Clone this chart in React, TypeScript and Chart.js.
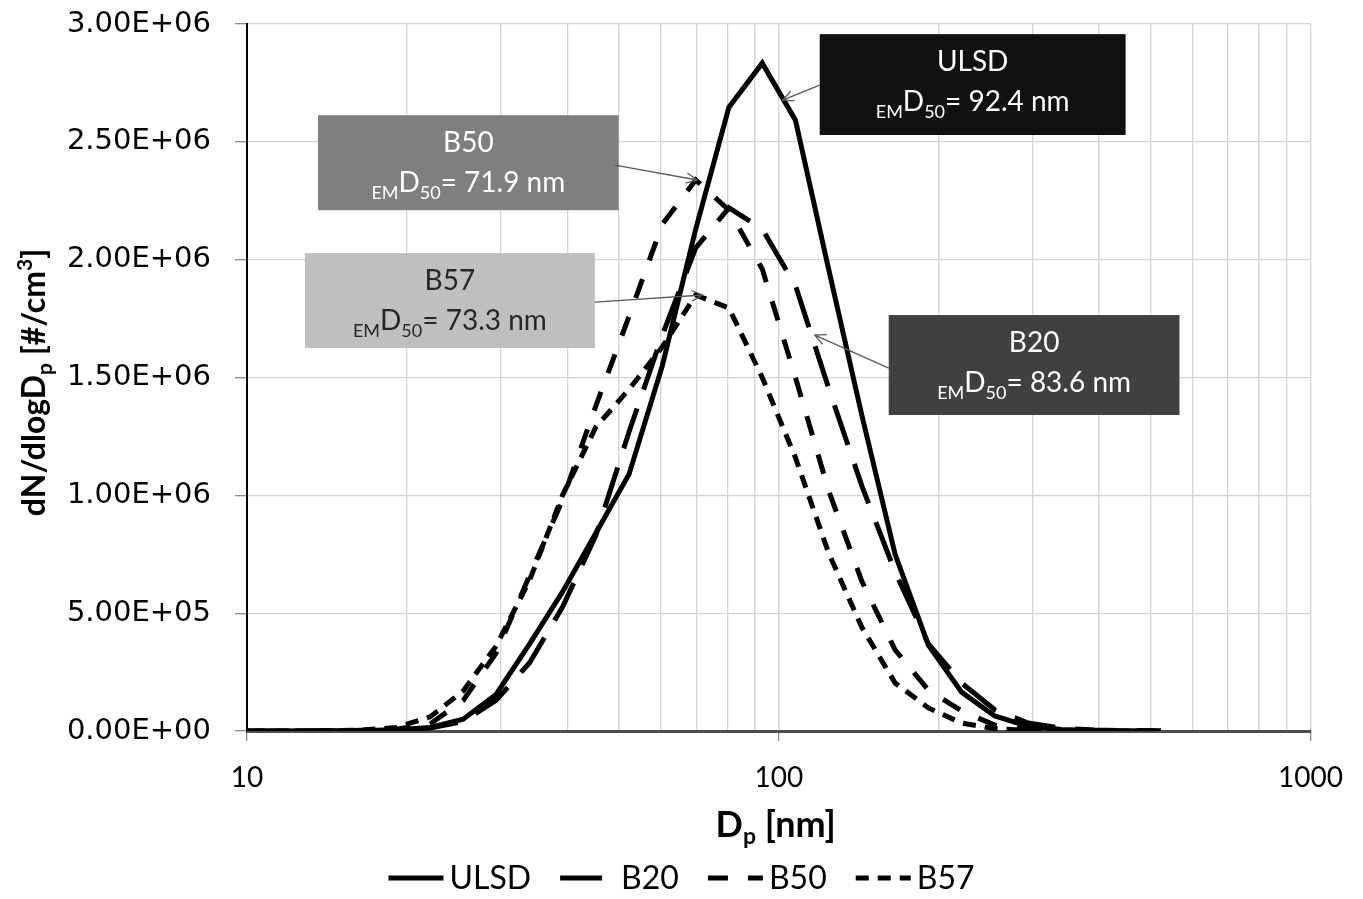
import React, { useEffect, useRef } from "react";
import { Chart, registerables } from "chart.js";

Chart.register(...registerables);

// ---- Data (EEPS channel mid-point diameters, nm) ----
const diameters = [9.31, 10.8, 12.4, 14.3, 16.5, 19.1, 22.1, 25.5, 29.4, 34.0, 39.2, 45.3, 52.3, 60.4, 69.8, 80.6, 93.1, 107.5, 124.1, 143.3, 165.5, 191.1, 220.7, 254.8, 294.3, 339.8, 392.4, 453.2, 523.3];

const ulsd = [0, 0, 0, 1e3, 2e3, 5e3, 1.5e4, 5e4, 1.55e5, 3.7e5, 5.9e5, 8.4e5, 1.09e6, 1.55e6, 2.13e6, 2.647e6, 2.834e6, 2.592e6, 1.96e6, 1.34e6, 7.5e5, 3.65e5, 1.65e5, 6.4e4, 2.0e4, 6e3, 2e3, 1e3, 3e2];
const b20 = [0, 0, 0, 0, 1e3, 3e3, 1.3e4, 4e4, 1.3e5, 2.9e5, 5.26e5, 8.3e5, 1.27e6, 1.68e6, 2.05e6, 2.22e6, 2.13e6, 1.89e6, 1.455e6, 1.04e6, 6.75e5, 3.7e5, 2.04e5, 9e4, 3.4e4, 1.2e4, 4e3, 1e3, 5e2];
const b50 = [0, 0, 0, 1e3, 3e3, 8e3, 3e4, 1.3e5, 3.3e5, 6.6e5, 9.8e5, 1.38e6, 1.76e6, 2.15e6, 2.338e6, 2.21e6, 1.96e6, 1.5e6, 1.02e6, 6.35e5, 3.44e5, 1.74e5, 8.5e4, 2.5e4, 5e3, 1e3, 0, 0, 0];
const b57 = [0, 0, 0, 1e3, 4e3, 1.5e4, 6e4, 1.7e5, 3.6e5, 6.4e5, 1.0e6, 1.29e6, 1.45e6, 1.63e6, 1.85e6, 1.795e6, 1.5e6, 1.16e6, 7.55e5, 4.4e5, 2.04e5, 9.8e4, 3.4e4, 1e4, 2e3, 0, 0, 0, 0];

const seriesNames = ["ULSD", "B20", "B50", "B57"];
const seriesValues = [ulsd, b20, b50, b57];
const d50Labels = ["92.4", "83.6", "71.9", "73.3"];

const xGridTicks = [10, 20, 30, 40, 50, 60, 70, 80, 90, 100, 200, 300, 400, 500, 600, 700, 800, 900, 1000];
const xLabelTicks = [10, 100, 1000];
const yMin = 0;
const yMax = 3e6;
const yStep = 5e5;

// ---- Styles ----
const dashes = [[], [42, 20], [20, 20], [13, 9]];
const LINE_W = 5;
const SANS = "Lato, 'Open Sans', sans-serif";

// callout boxes in data coordinates: [xFrom, xTo, yTop, yBottom]
const callouts = [
  { series: 0, box: [119.4, 449, 2.957e6, 2.529e6], from: [119.4, 2.741e6], to: [101.7, 2.677e6], fill: "#111111", text: "#ffffff" },
  { series: 2, box: [13.6, 50.0, 2.613e6, 2.21e6], from: [49.2, 2.401e6], to: [70.2, 2.338e6], fill: "#7f7f7f", text: "#ffffff" },
  { series: 3, box: [12.85, 45.1, 2.028e6, 1.625e6], from: [45.1, 1.82e6], to: [71.9, 1.85e6], fill: "#bfbfbf", text: "#262626" },
  { series: 1, box: [161, 567, 1.765e6, 1.341e6], from: [161, 1.54e6], to: [116.9, 1.68e6], fill: "#404040", text: "#ffffff" },
];

type Part = { t: string; size: number; shift?: number; bold?: boolean };

function richWidth(ctx: CanvasRenderingContext2D, parts: Part[]) {
  let w = 0;
  for (const p of parts) {
    ctx.font = `${p.bold ? "bold " : ""}${p.size}px ${SANS}`;
    w += ctx.measureText(p.t).width;
  }
  return w;
}

function drawRich(ctx: CanvasRenderingContext2D, parts: Part[], cx: number, baseline: number) {
  const total = richWidth(ctx, parts);
  let x = cx - total / 2;
  ctx.textAlign = "left";
  ctx.textBaseline = "alphabetic";
  for (const p of parts) {
    ctx.font = `${p.bold ? "bold " : ""}${p.size}px ${SANS}`;
    ctx.fillText(p.t, x, baseline + (p.shift || 0));
    x += ctx.measureText(p.t).width;
  }
}

function drawArrow(ctx: CanvasRenderingContext2D, fx: number, fy: number, tx: number, ty: number) {
  ctx.beginPath();
  ctx.moveTo(fx, fy);
  ctx.lineTo(tx, ty);
  ctx.stroke();
  const a = Math.atan2(ty - fy, tx - fx);
  const L = 12;
  const s = 0.45;
  ctx.beginPath();
  ctx.moveTo(tx - L * Math.cos(a - s), ty - L * Math.sin(a - s));
  ctx.lineTo(tx, ty);
  ctx.lineTo(tx - L * Math.cos(a + s), ty - L * Math.sin(a + s));
  ctx.stroke();
}

const fmtSci = (v: number) => {
  if (v === 0) return "0.00E+00";
  const e = Math.floor(Math.log10(v) + 1e-9);
  const m = v / Math.pow(10, e);
  return `${m.toFixed(2)}E+${String(e).padStart(2, "0")}`;
};

const decorPlugin = {
  id: "decor",
  afterDatasetsDraw(chart: any) {
    const { ctx, scales } = chart;
    const xs = scales.x;
    const ys = scales.y;
    ctx.save();
    for (const c of callouts) {
      const x1 = xs.getPixelForValue(c.box[0]);
      const x2 = xs.getPixelForValue(c.box[1]);
      const y1 = ys.getPixelForValue(c.box[2]);
      const y2 = ys.getPixelForValue(c.box[3]);
      ctx.fillStyle = c.fill;
      ctx.fillRect(x1, y1, x2 - x1, y2 - y1);
      ctx.strokeStyle = "#595959";
      ctx.lineWidth = 1.3;
      drawArrow(
        ctx,
        xs.getPixelForValue(c.from[0]),
        ys.getPixelForValue(c.from[1]),
        xs.getPixelForValue(c.to[0]),
        ys.getPixelForValue(c.to[1])
      );
      ctx.fillStyle = c.text;
      const cx = (x1 + x2) / 2;
      drawRich(ctx, [{ t: seriesNames[c.series], size: 28 }], cx, y1 + 37);
      drawRich(
        ctx,
        [
          { t: "EM", size: 18, shift: 7 },
          { t: "D", size: 28 },
          { t: "50", size: 18, shift: 7 },
          { t: `= ${d50Labels[c.series]} nm`, size: 28 },
        ],
        cx,
        y1 + 77
      );
    }
    ctx.restore();
  },
  afterDraw(chart: any) {
    const { ctx, chartArea, width } = chart;
    ctx.save();
    ctx.fillStyle = "#000";
    // y-axis title
    ctx.save();
    ctx.translate(33, (chartArea.top + chartArea.bottom) / 2 + 5);
    ctx.rotate(-Math.PI / 2);
    drawRich(
      ctx,
      [
        { t: "dN/dlogD", size: 32, bold: true },
        { t: "p", size: 21, shift: 7, bold: true },
        { t: " [#/cm", size: 32, bold: true },
        { t: "3", size: 21, shift: -13, bold: true },
        { t: "]", size: 32, bold: true },
      ],
      0,
      12
    );
    ctx.restore();
    // x-axis title
    drawRich(
      ctx,
      [
        { t: "D", size: 36, bold: true },
        { t: "p", size: 23, shift: 7, bold: true },
        { t: " [nm]", size: 36, bold: true },
      ],
      (chartArea.left + chartArea.right) / 2 - 3,
      837
    );
    // legend
    const lineLen = 55;
    const gapText = 6;
    const itemGap = 29;
    ctx.font = `32px ${SANS}`;
    const widths = seriesNames.map((n) => ctx.measureText(n).width);
    const total = widths.reduce((a, b) => a + b, 0) + seriesNames.length * (lineLen + gapText) + itemGap * (seriesNames.length - 1);
    let x = width / 2 - total / 2;
    const ly = 878;
    seriesNames.forEach((n, i) => {
      ctx.strokeStyle = "#000";
      ctx.lineWidth = LINE_W;
      ctx.setLineDash(dashes[i]);
      ctx.beginPath();
      ctx.moveTo(x, ly);
      ctx.lineTo(x + lineLen, ly);
      ctx.stroke();
      ctx.setLineDash([]);
      ctx.font = `32px ${SANS}`;
      ctx.textAlign = "left";
      ctx.textBaseline = "middle";
      ctx.fillText(n, x + lineLen + gapText, ly + 1);
      x += lineLen + gapText + widths[i] + itemGap;
    });
    ctx.restore();
  },
};

export default function App() {
  const canvasRef = useRef<HTMLCanvasElement | null>(null);

  useEffect(() => {
    document.body.style.margin = "0";
    const canvas = canvasRef.current;
    if (!canvas) return;
    const chart = new Chart(canvas, {
      type: "line",
      data: {
        datasets: seriesNames.map((name, i) => ({
          label: name,
          data: diameters.map((d, j) => ({ x: d, y: seriesValues[i][j] })),
          borderColor: "#000000",
          backgroundColor: "#000000",
          borderWidth: LINE_W,
          borderDash: dashes[i],
          pointRadius: 0,
          tension: 0,
          fill: false,
        })),
      },
      options: {
        responsive: false,
        animation: false,
        layout: { padding: { left: 0, right: 52, top: 24, bottom: 56 } },
        plugins: {
          legend: { display: false },
          tooltip: { enabled: false },
        },
        scales: {
          x: {
            type: "logarithmic",
            min: 10,
            max: 1000,
            afterBuildTicks: (scale: any) => {
              scale.ticks = xGridTicks.map((v) => ({ value: v, major: xLabelTicks.includes(v) }));
            },
            afterFit: (scale: any) => {
              scale.height = 112;
            },
            ticks: {
              autoSkip: false,
              maxRotation: 0,
              padding: 20,
              color: "#000",
              font: { family: SANS, size: 28 },
              callback: (v: any) => (xLabelTicks.includes(Number(v)) ? String(v) : ""),
            },
            grid: {
              color: "#d4d4d4",
              lineWidth: 1.3,
              tickLength: 10,
              tickColor: (ctx: any) => (ctx.tick && xLabelTicks.includes(ctx.tick.value) ? "#8c8c8c" : "rgba(0,0,0,0)"),
            },
            border: { color: "#4d4d4d", width: 3 },
          },
          y: {
            min: yMin,
            max: yMax,
            afterFit: (scale: any) => {
              scale.width = 247;
              scale.paddingTop = 0;
              scale.paddingBottom = 0;
            },
            ticks: {
              stepSize: yStep,
              padding: 24,
              color: "#000",
              font: { family: "'DejaVu Sans', sans-serif", size: 29 },
              callback: (v: any) => fmtSci(Number(v)),
            },
            grid: { color: "#d4d4d4", lineWidth: 1.3, tickLength: 12, tickColor: "#8c8c8c" },
            border: { color: "#000", width: 2 },
          },
        },
      },
      plugins: [decorPlugin],
    } as any);
    return () => chart.destroy();
  }, []);

  return (
    <div style={{ width: 1363, height: 899, background: "#fff" }}>
      <canvas ref={canvasRef} width={1363} height={899} style={{ display: "block" }} />
    </div>
  );
}
